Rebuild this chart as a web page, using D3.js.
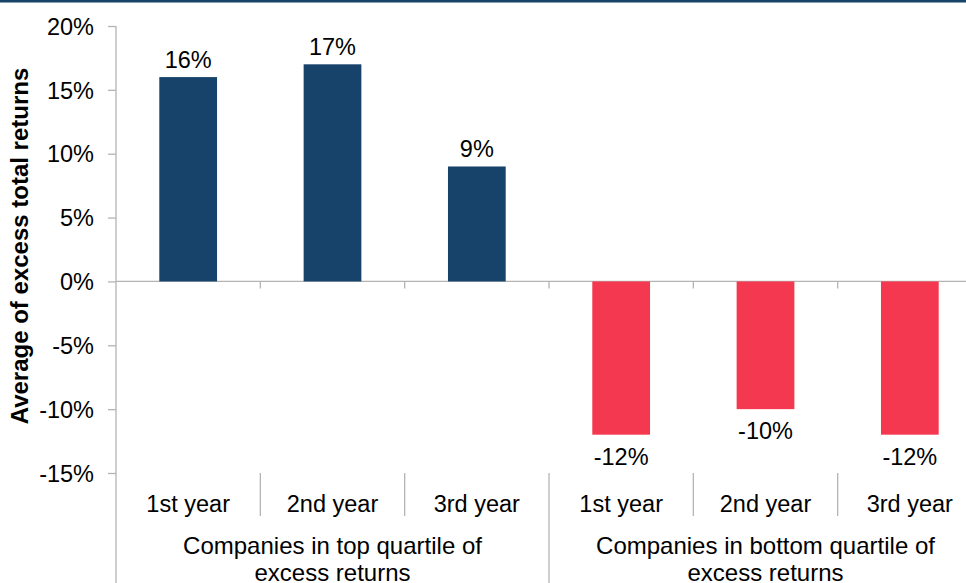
<!DOCTYPE html>
<html>
<head>
<meta charset="utf-8">
<script src="https://cdn.jsdelivr.net/npm/d3@7"></script>
<style>
  body { margin: 0; background: #fff; }
  svg { display: block; font-family: "Liberation Sans", Arial, sans-serif; }
</style>
</head>
<body>
<div id="chart"></div>
<script>
// data
var years = ["1st year", "2nd year", "3rd year", "1st year", "2nd year", "3rd year"];
var groupOf = [0, 0, 0, 1, 1, 1];
var values = [16, 17, 9, -12, -10, -12];
var groupLines = [
  ["Companies in top quartile of", "excess returns"],
  ["Companies in bottom quartile of", "excess returns"]
];
var yTicks = [20, 15, 10, 5, 0, -5, -10, -15];

var width = 966, height = 583;
var blue = "#17426a", red = "#f4384f", grid = "#b4b4b4";
var fs = "23.5px";

var svg = d3.select("#chart").append("svg")
    .attr("width", width)
    .attr("height", height);

// dark rule along the top
svg.append("rect")
    .attr("x", 0).attr("y", 0)
    .attr("width", width).attr("height", 2.5)
    .style("fill", blue);

var x = d3.scaleBand()
    .domain(d3.range(values.length))
    .range([116, 982])
    .paddingInner(0.6)
    .paddingOuter(0.3);

var y = d3.scaleLinear()
    .domain([-15, 20])
    .range([473, 26]);

var step = x.step();
var left = x.range()[0];
function edge(i) { return left + i * step; }

// y axis
var yAxis = d3.axisLeft(y)
    .tickValues(yTicks)
    .tickSize(8)
    .tickFormat(function (d) { return d + "%"; });

var ya = svg.append("g")
    .attr("transform", "translate(" + left + ",0)")
    .call(yAxis);
ya.select(".domain").remove();
ya.selectAll("line").style("stroke", grid).style("stroke-width", 1.3);
ya.selectAll("text")
    .attr("x", -22)
    .attr("dy", "0.35em")
    .style("font-size", fs)
    .style("fill", "#000")
    .attr("font-family", null);

// left axis line runs down through the label area
svg.append("line")
    .attr("x1", left).attr("x2", left)
    .attr("y1", y(20)).attr("y2", height)
    .style("stroke", grid).style("stroke-width", 1.3);

// zero line
svg.append("line")
    .attr("x1", left).attr("x2", width)
    .attr("y1", y(0)).attr("y2", y(0))
    .style("stroke", grid).style("stroke-width", 1.3);

// short ticks under the zero line at category boundaries
svg.selectAll(".ztick")
    .data(d3.range(1, values.length))
    .enter().append("line")
    .attr("class", "ztick")
    .attr("x1", function (i) { return edge(i); })
    .attr("x2", function (i) { return edge(i); })
    .attr("y1", y(0)).attr("y2", y(0) + 7)
    .style("stroke", grid).style("stroke-width", 1.3);

// separators in the category label area
svg.selectAll(".sep")
    .data(d3.range(1, values.length))
    .enter().append("line")
    .attr("class", "sep")
    .attr("x1", function (i) { return edge(i); })
    .attr("x2", function (i) { return edge(i); })
    .attr("y1", y(-15))
    .attr("y2", function (i) { return i === 3 ? height : 516; })
    .style("stroke", grid).style("stroke-width", 1.3);

// bars
svg.selectAll(".bar")
    .data(values)
    .enter().append("rect")
    .attr("class", "bar")
    .attr("x", function (d, i) { return x(i); })
    .attr("width", x.bandwidth())
    .attr("y", function (d) { return y(Math.max(0, d)); })
    .attr("height", function (d) { return Math.abs(y(d) - y(0)); })
    .style("fill", function (d) { return d >= 0 ? blue : red; });

// value labels
svg.selectAll(".val")
    .data(values)
    .enter().append("text")
    .attr("class", "val")
    .attr("x", function (d, i) { return x(i) + x.bandwidth() / 2; })
    .attr("y", function (d) { return d >= 0 ? y(d) - 9 : y(d) + 30; })
    .style("text-anchor", "middle")
    .style("font-size", fs)
    .text(function (d) { return d + "%"; });

// category labels
svg.selectAll(".cat")
    .data(years)
    .enter().append("text")
    .attr("class", "cat")
    .attr("x", function (d, i) { return x(i) + x.bandwidth() / 2; })
    .attr("y", 512)
    .style("text-anchor", "middle")
    .style("font-size", fs)
    .text(function (d) { return d; });

// group labels (the second line is clipped by the bottom edge, as in the source)
groupLines.forEach(function (lines, g) {
  var members = d3.range(values.length).filter(function (i) { return groupOf[i] === g; });
  var cx = (edge(members[0]) + edge(members[members.length - 1] + 1)) / 2;
  var t = svg.append("text")
      .attr("x", cx)
      .attr("y", 554)
      .style("text-anchor", "middle")
      .style("font-size", "24px");
  lines.forEach(function (s, k) {
    t.append("tspan")
        .attr("x", cx)
        .attr("dy", k === 0 ? 0 : 27)
        .text(s);
  });
});

// y axis title
svg.append("text")
    .attr("transform", "translate(28,246) rotate(-90)")
    .style("text-anchor", "middle")
    .style("font-size", "24px")
    .style("font-weight", "bold")
    .text("Average of excess total returns");
</script>
</body>
</html>
